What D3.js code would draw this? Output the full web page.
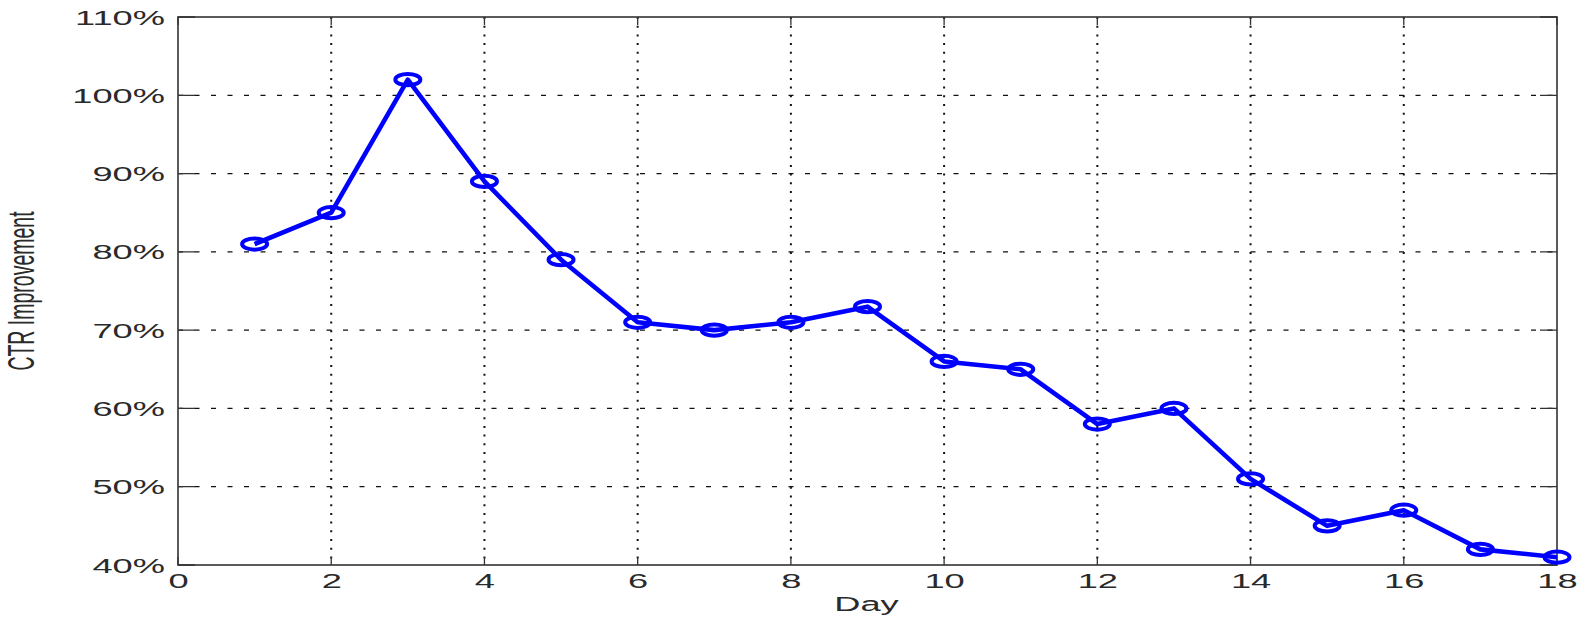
<!DOCTYPE html>
<html>
<head>
<meta charset="utf-8">
<script src="https://cdn.jsdelivr.net/npm/d3@7"></script>
<style>
  html, body { margin:0; padding:0; background:#fff; }
  svg text { font-family: "Liberation Sans", Arial, sans-serif; fill:#2a2a2a; }
</style>
</head>
<body>
<div id="chart"></div>
<script>
// CTR-Verbesserung pro Tag (MATLAB-Stil, horizontal gestreckt)
const days  = [1,2,3,4,5,6,7,8,9,10,11,12,13,14,15,16,17,18];
const ctr   = [81,85,102,89,79,71,70,71,73,66,65,58,60,51,45,47,42,41];
const xTicks = [0,2,4,6,8,10,12,14,16,18];
const yTicks = [40,50,60,70,80,90,100,110];
const xTitle = "Day";
const yTitle = "CTR Improvement";

const W = 1595, H = 618;
const m = { top: 17, right: 38, bottom: 53, left: 178 };
const SX = 1.86;          // Text-Streckung wie im Original
const FS = 19.5;
const axisClr = "#333";

const svg = d3.select("#chart").append("svg").attr("width", W).attr("height", H);
const innerW = W - m.left - m.right, innerH = H - m.top - m.bottom;
const g = svg.append("g").attr("transform", `translate(${m.left},${m.top})`);

const x = d3.scaleLinear().domain([0,18]).range([0, innerW]);
const y = d3.scaleLinear().domain([40,110]).range([innerH, 0]);

// Gitter
g.append("g").selectAll("line").data(yTicks.slice(1,-1)).join("line")
  .attr("x1",0).attr("x2",innerW).attr("y1",d=>y(d)).attr("y2",d=>y(d))
  .attr("stroke","#111").attr("stroke-width",1.2).attr("stroke-dasharray","5,11.5");
g.append("g").selectAll("line").data(xTicks.slice(1,-1)).join("line")
  .attr("x1",d=>x(d)).attr("x2",d=>x(d)).attr("y1",0).attr("y2",innerH)
  .attr("stroke","#111").attr("stroke-width",2).attr("stroke-dasharray","2,6.7");

// Achsen
const ax = g.append("g").attr("transform",`translate(0,${innerH})`)
  .call(d3.axisBottom(x).tickValues(xTicks).tickSize(0).tickPadding(0));
ax.select(".domain").remove();
ax.selectAll("text").attr("y",9).attr("dy","0.71em")
  .attr("transform",`scale(${SX},1)`).attr("font-size",FS).style("fill","#2a2a2a");

const ay = g.append("g")
  .call(d3.axisLeft(y).tickValues(yTicks).tickFormat(d=>d+"%").tickSize(0).tickPadding(0));
ay.select(".domain").remove();
ay.selectAll("text").attr("x",-7).attr("dy","0.36em")
  .attr("transform",`scale(${SX},1)`).attr("font-size",FS).style("fill","#2a2a2a");

// Ticks innen, alle vier Seiten
const tx = 8, ty = 17;
g.append("g").selectAll("path").data(xTicks).join("path")
  .attr("d", d=>`M${x(d)},${innerH}v${-tx}M${x(d)},0v${tx}`)
  .attr("stroke",axisClr).attr("stroke-width",1.3);
g.append("g").selectAll("path").data(yTicks).join("path")
  .attr("d", d=>`M0,${y(d)}h${ty}M${innerW},${y(d)}h${-ty}`)
  .attr("stroke",axisClr).attr("stroke-width",1.3);

// Rahmen
g.append("rect").attr("x",0).attr("y",0).attr("width",innerW).attr("height",innerH)
  .attr("fill","none").attr("stroke",axisClr).attr("stroke-width",1.6);

// Linie + Marker
const pts = days.map((d,i)=>({day:d, v:ctr[i]}));
g.append("path").datum(pts)
  .attr("fill","none").attr("stroke","#0000ff").attr("stroke-width",4.6)
  .attr("stroke-linejoin","round")
  .attr("d", d3.line().x(d=>x(d.day)).y(d=>y(d.v)));
g.append("g").selectAll("ellipse").data(pts).join("ellipse")
  .attr("cx",d=>x(d.day)).attr("cy",d=>y(d.v))
  .attr("rx",12.5).attr("ry",5.6)
  .attr("fill","none").attr("stroke","#0000ff").attr("stroke-width",4);

// Achsentitel
svg.append("g").attr("transform",`translate(${m.left + innerW/2 - 1},611) scale(${SX},1)`)
  .append("text").attr("text-anchor","middle").attr("font-size",FS).text(xTitle);
svg.append("g").attr("transform",`translate(34,291) scale(${SX},1) rotate(-90)`)
  .append("text").attr("text-anchor","middle").attr("font-size",FS).text(yTitle);
</script>
</body>
</html>
